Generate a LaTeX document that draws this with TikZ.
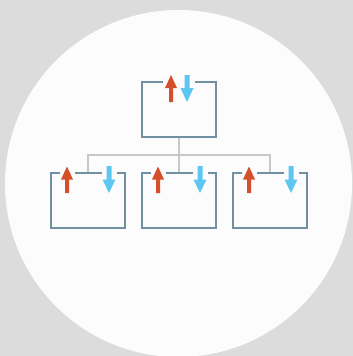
\documentclass[tikz,border=0pt]{standalone}
\begin{document}
\begin{tikzpicture}[x=1pt,y=-1pt,
  boxnode/.style={rectangle,minimum width=73pt,minimum height=55pt,inner sep=0pt},
  outline/.style={draw=boxc,line width=2pt},
  tree/.style={draw=treec,line width=2pt},
  uparrow/.style={fill=redc},
  downarrow/.style={fill=bluec}]
\definecolor{bgc}{HTML}{DCDCDC}
\definecolor{circc}{HTML}{FCFCFC}
\definecolor{boxc}{HTML}{7191A3}
\definecolor{treec}{HTML}{C8C8C8}
\definecolor{redc}{HTML}{D4502A}
\definecolor{bluec}{HTML}{5CC8F1}
\useasboundingbox (0,0) rectangle (353,356);
\fill[bgc] (0,0) rectangle (353,356);
\fill[circc] (178.5,183.5) circle[radius=173.5];
% boxes
\node[boxnode] (top) at (179,109.5) {};
\node[boxnode] (b1) at (88,200.5) {};
\node[boxnode] (b2) at (179,200.5) {};
\node[boxnode] (b3) at (270,200.5) {};
% tree
\coordinate (j) at ([yshift=-18pt]top.south);
\draw[tree] (top.south) -- (j);
\draw[tree] (b1.north) |- (j) -| (b3.north);
\draw[tree] (j) -- (b2.north);
% top box outline
\draw[outline] ([xshift=-16pt]top.north) -| (top.south west) -| (top.north east) -- ([xshift=16pt]top.north);
% arrows in top box
\fill[uparrow] (171,75) -- (177,88) -- (173,88) -- (173,102) -- (169,102) -- (169,88) -- (165,88) -- cycle;
\fill[downarrow] (187,102) -- (193.5,88) -- (189.5,88) -- (189.5,75) -- (184.5,75) -- (184.5,88) -- (180.5,88) -- cycle;
% bottom boxes
\foreach \b/\c in {b1/88,b2/179,b3/270}{
  \draw[outline] ([xshift=-28.5pt]\b.north) -| (\b.south west) -| (\b.north east) -- ([xshift=28.5pt]\b.north);
  \draw[outline] ([xshift=-13.5pt]\b.north) -- ([xshift=13.5pt]\b.north);
  \fill[uparrow] (\c-21,166.5) -- (\c-15,179.5) -- (\c-19,179.5) -- (\c-19,193) -- (\c-23,193) -- (\c-23,179.5) -- (\c-27,179.5) -- cycle;
  \fill[downarrow] (\c+21,193) -- (\c+27.5,179.5) -- (\c+23.5,179.5) -- (\c+23.5,166) -- (\c+18.5,166) -- (\c+18.5,179.5) -- (\c+14.5,179.5) -- cycle;
}
\end{tikzpicture}
\end{document}
